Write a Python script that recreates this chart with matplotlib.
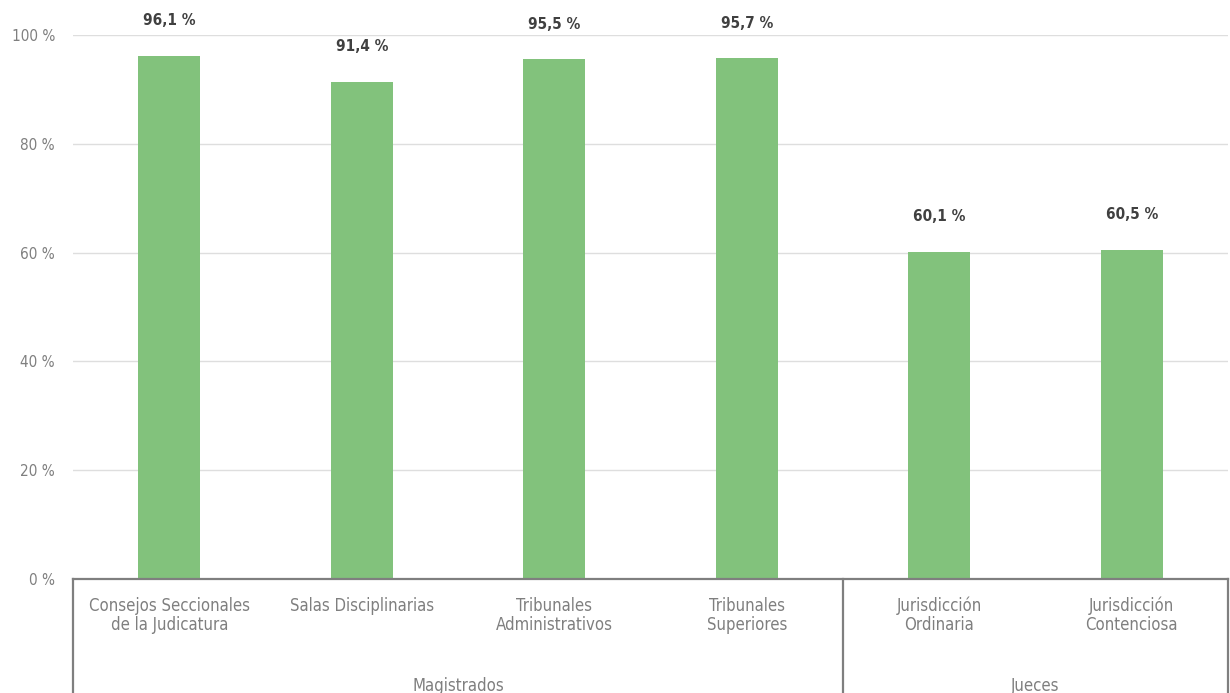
import matplotlib.pyplot as plt
from matplotlib.transforms import blended_transform_factory

categorias = [
    "Consejos Seccionales\nde la Judicatura",
    "Salas Disciplinarias",
    "Tribunales\nAdministrativos",
    "Tribunales\nSuperiores",
    "Jurisdicción\nOrdinaria",
    "Jurisdicción\nContenciosa",
]
valores = [96.1, 91.4, 95.5, 95.7, 60.1, 60.5]
grupos = ["Magistrados", "Jueces"]
grupo_tam = [4, 2]
yticks = [0, 20, 40, 60, 80, 100]

plt.rcParams["font.family"] = ["DejaVu Sans"]
plt.rcParams["font.stretch"] = "condensed"

verde = "#82c27c"
gris = "#7f7f7f"

fig = plt.figure(figsize=(12.3, 6.93), dpi=100)
ax = fig.add_axes([73 / 1230, 1 - 579 / 693, (1228 - 73) / 1230, 544 / 693])

x = list(range(len(categorias)))
barras = ax.bar(x, valores, width=0.32, color=verde, zorder=3)
for b, v in zip(barras, valores):
    ax.annotate(f"{v:.1f} %".replace(".", ","),
                (b.get_x() + b.get_width() / 2, v),
                xytext=(0, 20), textcoords="offset points",
                ha="center", va="bottom", fontsize=11, fontweight="bold",
                color="#404040", annotation_clip=False)

ax.set_xlim(-0.5, len(categorias) - 0.5)
ax.set_ylim(0, 100)
ax.set_yticks(yticks)
ax.set_yticklabels([f"{t} %" for t in yticks], fontsize=11, color=gris)
ax.tick_params(axis="y", length=0, pad=13)
ax.set_xticks([])
ax.grid(axis="y", color="#dedede", linewidth=1.0, zorder=0)
for s in ["top", "right", "left"]:
    ax.spines[s].set_visible(False)
ax.spines["bottom"].set_color(gris)
ax.spines["bottom"].set_linewidth(1.6)
ax.spines["bottom"].set_zorder(4)

# etiquetas de categoria y de grupo bajo el eje
trans = blended_transform_factory(ax.transData, ax.transAxes)
for xi, cat in zip(x, categorias):
    ax.text(xi, -0.033, cat, transform=trans, ha="center", va="top",
            fontsize=12, color=gris, linespacing=1.05)

fondo = -(693 - 579) / 544
inicio = -0.5
bordes = [inicio]
for g, n in zip(grupos, grupo_tam):
    fin = inicio + n
    ax.text((inicio + fin) / 2, -0.197, g, transform=trans, ha="center",
            va="center", fontsize=12, color=gris)
    bordes.append(fin)
    inicio = fin
for bx in bordes:
    ax.plot([bx, bx], [0, fondo], transform=trans, color=gris,
            linewidth=1.6, clip_on=False, zorder=4)

fig.savefig("out.png", dpi=100)
